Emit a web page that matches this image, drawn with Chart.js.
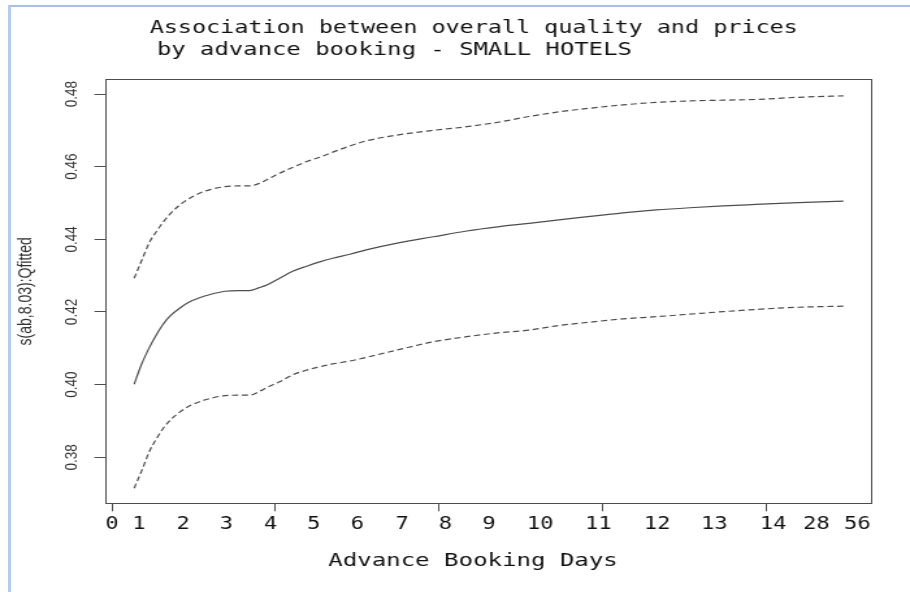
<!DOCTYPE html>
<html><head><meta charset="utf-8">
<script src="https://cdn.jsdelivr.net/npm/chart.js@4.4.1/dist/chart.umd.min.js"></script>
<style>
html,body{margin:0;padding:0;background:#fff;width:910px;height:592px;overflow:hidden;}
#frame{position:absolute;left:8px;top:5px;width:902px;height:587px;border-top:2px solid #a6c0e9;border-left:3px solid #b6ccef;box-sizing:border-box;}
#wrap{position:absolute;left:0;top:0;width:700px;height:592px;transform:scaleX(1.3);transform-origin:0 0;}
</style></head><body>
<div id="frame"></div>
<div id="wrap"><canvas id="c"></canvas></div>
<script>
// ---- data ----
const abDays = [2.7, 3.6, 4.6, 5.4, 6.2, 7.1, 8.3, 9.5, 10.7, 12, 13.8, 15.5, 16.8, 18, 19, 20.5, 22.1, 23.8, 25.4, 27, 29.1, 31.1, 35.2, 39.3, 43.4, 47.4, 51, 54.4, 58.5, 62.5, 66.6, 70.7, 74.8, 78.8, 84, 89.5];
const fitted = [0.4001, 0.4056, 0.4104, 0.4137, 0.4165, 0.4189, 0.4211, 0.4228, 0.4239, 0.4248, 0.4257, 0.4259, 0.4259, 0.4267, 0.4275, 0.4293, 0.4312, 0.4326, 0.4338, 0.4348, 0.4359, 0.4371, 0.4391, 0.4407, 0.4423, 0.4435, 0.4444, 0.4453, 0.4463, 0.4473, 0.4481, 0.4487, 0.4492, 0.4496, 0.4501, 0.4505];
const upperBand = [0.4293, 0.4341, 0.4393, 0.4421, 0.4446, 0.4470, 0.4495, 0.4513, 0.4527, 0.4537, 0.4545, 0.4547, 0.4547, 0.4554, 0.4565, 0.4582, 0.4598, 0.4614, 0.4626, 0.4640, 0.4657, 0.4671, 0.4688, 0.4700, 0.4710, 0.4723, 0.4738, 0.4750, 0.4761, 0.4770, 0.4777, 0.4781, 0.4783, 0.4785, 0.4791, 0.4795];
const lowerBand = [0.3715, 0.3762, 0.3818, 0.3850, 0.3878, 0.3902, 0.3925, 0.3942, 0.3953, 0.3962, 0.3970, 0.3971, 0.3971, 0.3981, 0.3993, 0.4008, 0.4027, 0.4040, 0.4049, 0.4057, 0.4065, 0.4075, 0.4097, 0.4118, 0.4132, 0.4143, 0.4150, 0.4162, 0.4172, 0.4181, 0.4187, 0.4194, 0.4201, 0.4207, 0.4213, 0.4216];
const xTickMarks = [0, 20, 40, 60, 80];
const dayLabels = ['0','1','2','3','4','5','6','7','8','9','10','11','12','13','14','28','56'];
const dayLabelAt = [0, 3.3, 8.7, 14.0, 19.4, 24.7, 30.0, 35.5, 40.8, 46.1, 52.4, 59.5, 66.7, 73.7, 80.9, 86.2, 91.2];
const yTicks = [0.38, 0.40, 0.42, 0.44, 0.46, 0.48];
const titleLines = ['Association between overall quality and prices', 'by advance booking - SMALL HOTELS'];
const xTitle = 'Advance Booking Days';
const yTitle = 's(ab,8.03):Qfitted';

const pts = arr => abDays.map((x, i) => ({x: x, y: arr[i]}));
const LINE = '#4d4d4d';

const textPlugin = {
  id: 'rTexts',
  afterDraw(chart) {
    const ctx = chart.ctx, a = chart.chartArea;
    ctx.save();
    ctx.fillStyle = '#111';
    ctx.textAlign = 'left';
    ctx.textBaseline = 'alphabetic';
    ctx.font = '18px "DejaVu Sans Mono"';
    ctx.fillText(titleLines[0], a.left + 34, a.top - 46.6);
    ctx.font = '18.4px "DejaVu Sans Mono"';
    ctx.fillText(titleLines[1], a.left + 39.5, a.top - 24.8);
    ctx.font = '18.5px "DejaVu Sans Mono"';
    ctx.textAlign = 'center';
    ctx.textBaseline = 'middle';
    ctx.fillText(xTitle, (a.left + a.right) / 2 - 12, a.bottom + 58.2);
    ctx.restore();
  }
};

const allXTicks = Array.from(new Set(xTickMarks.concat(dayLabelAt))).sort((p, q) => p - q);
const lineDs = (arr, dash) => ({data: pts(arr), borderColor: LINE, borderWidth: 1.2, borderDash: dash, pointRadius: 0, cubicInterpolationMode: 'monotone', fill: false});

new Chart(document.getElementById('c'), {
  type: 'line',
  data: {
    datasets: [
      lineDs(fitted, []),
      lineDs(upperBand, [4.8, 2.8]),
      lineDs(lowerBand, [4.8, 2.8])
    ]
  },
  options: {
    responsive: true,
    maintainAspectRatio: false,
    animation: false,
    events: [],
    layout: {padding: {left: 0, right: 29.4, top: 79.3, bottom: 0}},
    plugins: {legend: {display: false}, tooltip: {enabled: false}, title: {display: false}},
    scales: {
      x: {
        type: 'linear', position: 'bottom', min: -0.81, max: 92.97,
        afterBuildTicks: s => { s.ticks = allXTicks.map(v => ({value: v})); },
        afterFit: s => { s.height = 88.7; },
        grid: {display: true, drawOnChartArea: false, drawTicks: true, tickLength: 8, tickWidth: 1,
               tickColor: c => (c.tick && xTickMarks.includes(c.tick.value)) ? LINE : 'rgba(0,0,0,0)'},
        border: {display: true, color: LINE, width: 1},
        ticks: {
          autoSkip: false, maxRotation: 0, minRotation: 0, padding: 3.5, color: '#111',
          font: {family: '"DejaVu Sans Mono"', size: 17},
          callback: v => { const i = dayLabelAt.indexOf(v); return i >= 0 ? dayLabels[i] : ''; }
        }
      },
      xTop: {
        type: 'linear', position: 'top', min: 0, max: 1,
        afterFit: s => { s.height = 0; },
        grid: {display: false}, ticks: {display: false},
        border: {display: true, color: LINE, width: 1}
      },
      y: {
        type: 'linear', position: 'left', min: 0.36734, max: 0.48405,
        afterBuildTicks: s => { s.ticks = yTicks.map(v => ({value: v})); },
        afterFit: s => { s.width = 81.15; },
        grid: {display: true, drawOnChartArea: false, drawTicks: true, tickLength: 8.5, tickColor: LINE},
        border: {display: true, color: LINE, width: 1},
        ticks: {
          minRotation: 90, maxRotation: 90, crossAlign: 'center', padding: 4.2, color: '#333',
          font: {family: '"Liberation Sans", Arial, sans-serif', size: 13.5},
          callback: v => v.toFixed(2)
        },
        title: {display: true, text: yTitle, color: '#333', padding: {top: 12.1, bottom: 0},
                font: {family: '"Liberation Sans", Arial, sans-serif', size: 14}}
      },
      yRight: {
        type: 'linear', position: 'right', min: 0, max: 1,
        afterFit: s => { s.width = 0; },
        grid: {display: false}, ticks: {display: false},
        border: {display: true, color: LINE, width: 1}
      }
    }
  },
  plugins: [textPlugin]
});
</script></body></html>
